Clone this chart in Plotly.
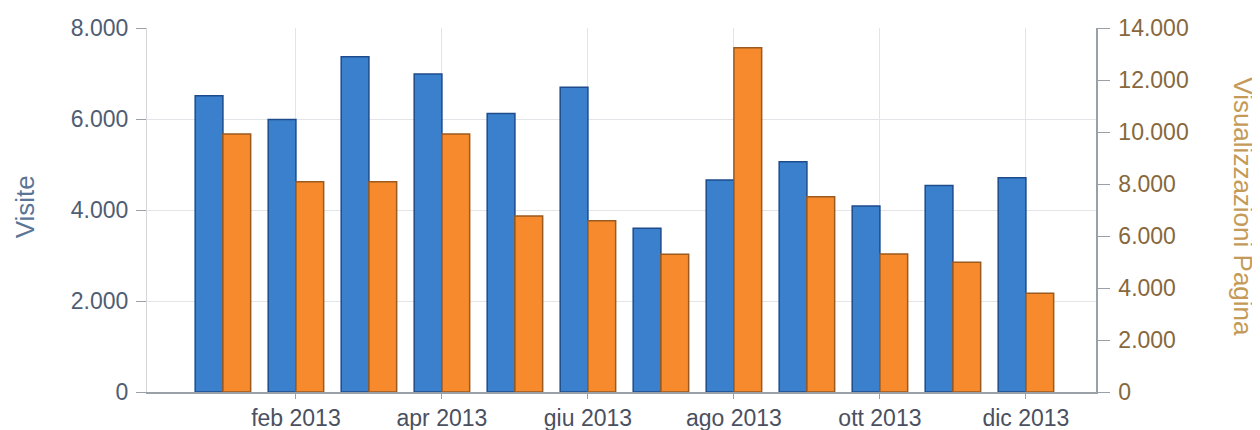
import plotly.graph_objects as go

months = ["gen 2013", "feb 2013", "mar 2013", "apr 2013", "mag 2013", "giu 2013",
          "lug 2013", "ago 2013", "set 2013", "ott 2013", "nov 2013", "dic 2013"]
visite = [6510, 5990, 7370, 6990, 6120, 6700, 3600, 4660, 5060, 4090, 4540, 4710]
visualizzazioni = [9920, 8090, 8090, 9920, 6770, 6590, 5300, 13240, 7510, 5310, 4990, 3800]
tick_labels = ["feb 2013", "apr 2013", "giu 2013", "ago 2013", "ott 2013", "dic 2013"]
left_ticks = [0, 2000, 4000, 6000, 8000]
left_ticktext = ["0", "2.000", "4.000", "6.000", "8.000"]
right_ticks = [0, 2000, 4000, 6000, 8000, 10000, 12000, 14000]
right_ticktext = ["0", "2.000", "4.000", "6.000", "8.000", "10.000", "12.000", "14.000"]

FONT = "Liberation Sans, Arial, sans-serif"

fig = go.Figure()
fig.add_trace(go.Bar(
    x=months, y=visite, name="Visite", yaxis="y", offsetgroup="a",
    marker=dict(color="#3a80cc", line=dict(color="#1d4b8c", width=1.5)),
))
fig.add_trace(go.Bar(
    x=months, y=visualizzazioni, name="Visualizzazioni Pagina", yaxis="y2", offsetgroup="b",
    marker=dict(color="#f68a2c", line=dict(color="#9a5a20", width=1.5)),
))

fig.update_layout(
    width=1252, height=422,
    margin=dict(l=139, r=164, t=20, b=38, autoexpand=False),
    paper_bgcolor="white", plot_bgcolor="white",
    showlegend=False,
    barmode="group", bargap=0.24, bargroupgap=0,
    font=dict(family=FONT, size=23, color="#4a5060"),
    xaxis=dict(
        type="category", categoryorder="array", categoryarray=months,
        range=[-1.04, 11.96],
        tickmode="array", tickvals=tick_labels, ticktext=tick_labels,
        showgrid=True, gridcolor="#e2e4e8", gridwidth=1,
        showline=True, linecolor="#9aa0a8", linewidth=1.5,
        ticks="outside", ticklen=5, tickcolor="#9aa0a8",
        tickfont=dict(family=FONT, size=23, color="#4a5060"),
        zeroline=False, automargin=False,
    ),
    yaxis=dict(
        range=[0, 8000],
        tickmode="array", tickvals=left_ticks, ticktext=left_ticktext,
        showgrid=True, gridcolor="#e2e4e8", gridwidth=1,
        showline=True, linecolor="#d4d6da", linewidth=1,
        ticks="outside", ticklen=10, tickcolor="#9aa0a8",
        ticklabelstandoff=3,
        tickfont=dict(family=FONT, size=23, color="#4f5d72"),
        zeroline=False, automargin=False,
    ),
    yaxis2=dict(
        range=[0, 14000], overlaying="y", side="right",
        tickmode="array", tickvals=right_ticks, ticktext=right_ticktext,
        showgrid=False,
        showline=True, linecolor="#9aa0a8", linewidth=1.5,
        ticks="outside", ticklen=12, tickcolor="#9aa0a8",
        ticklabelstandoff=4,
        tickfont=dict(family=FONT, size=23, color="#86683c"),
        zeroline=False, automargin=False,
    ),
    annotations=[
        dict(text="Visite", xref="paper", yref="paper", x=-0.1286, y=0.51,
             xanchor="center", yanchor="middle", textangle=-90, showarrow=False,
             font=dict(family=FONT, size=26, color="#5a7596")),
        dict(text="Visualizzazioni Pagina", xref="paper", yref="paper", x=1.155, y=0.51,
             xanchor="center", yanchor="middle", textangle=90, showarrow=False,
             font=dict(family=FONT, size=26, color="#c49a58")),
    ],
)

fig.write_html("out.html")
